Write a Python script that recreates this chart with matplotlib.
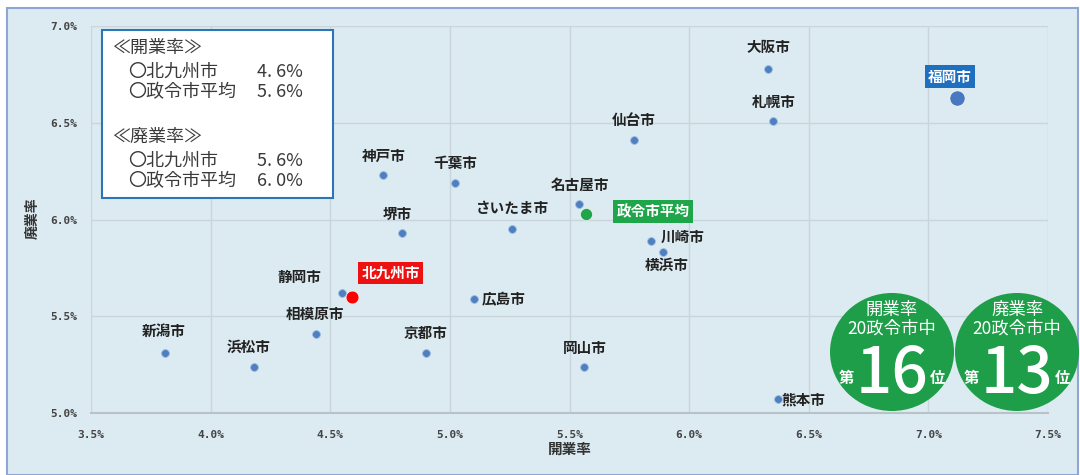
import matplotlib.pyplot as plt
from matplotlib.patches import Rectangle, Ellipse
from matplotlib.ticker import FuncFormatter

plt.rcParams['font.family'] = ['Noto Sans CJK JP', 'DejaVu Sans']

# data: 開業率 (x) / 廃業率 (y), percent
cities = ['大阪市', '福岡市', '札幌市', '仙台市', '神戸市', '千葉市', '名古屋市',
          '政令市平均', 'さいたま市', '堺市', '川崎市', '横浜市', '北九州市',
          '静岡市', '広島市', '相模原市', '新潟市', '浜松市', '京都市', '岡山市', '熊本市']
open_rate = [6.33, 7.12, 6.35, 5.77, 4.72, 5.02, 5.54,
             5.57, 5.26, 4.80, 5.84, 5.89, 4.59,
             4.55, 5.10, 4.44, 3.81, 4.18, 4.90, 5.56, 6.37]
close_rate = [6.78, 6.63, 6.51, 6.41, 6.23, 6.19, 6.08,
              6.03, 5.95, 5.93, 5.89, 5.83, 5.60,
              5.62, 5.59, 5.41, 5.31, 5.24, 5.31, 5.24, 5.07]

summary_open = ['4.6%', '5.6%']
summary_close = ['5.6%', '6.0%']
rank_open = '16'
rank_close = '13'

# label offsets in pixels (dx, dy, ha)
offsets = {
    '大阪市': (0, 22, 'center'), '福岡市': (-7, 21, 'center'), '札幌市': (1, 19, 'center'),
    '仙台市': (0, 20, 'center'), '神戸市': (1, 19, 'center'), '千葉市': (1, 20, 'center'),
    '名古屋市': (1, 19, 'center'), '政令市平均': (67, 2, 'center'), 'さいたま市': (0, 21, 'center'),
    '堺市': (-5, 19, 'center'), '川崎市': (10, 4, 'left'), '横浜市': (4, -12, 'center'),
    '北九州市': (39, 24, 'center'), '静岡市': (-43, 16, 'center'), '広島市': (8, 0, 'left'),
    '相模原市': (-1, 20, 'center'), '新潟市': (-1, 22, 'center'), '浜松市': (-5, 20, 'center'),
    '京都市': (0, 20, 'center'), '岡山市': (1, 19, 'center'), '熊本市': (4, 0, 'left'),
}
special = {
    '北九州市': dict(color='#ff0000', s=85, box='#ee1111'),
    '政令市平均': dict(color='#1fa64a', s=75, box='#1fa64a'),
    '福岡市': dict(color='#4a78c0', s=120, box='#1f6fc0'),
}
dot_color = '#4f7fc0'
bg = '#dcebf1'

fig = plt.figure(figsize=(10.8, 4.75), dpi=100)
W, H = 1080, 475

def fx(px):
    return px / W

def fy(py):
    return 1 - py / H

# outer panel
fig.add_artist(Rectangle((fx(7), 0), fx(1078) - fx(7), fy(8), transform=fig.transFigure,
                         fc=bg, ec='#8ea6d6', lw=1.5, zorder=0))

ax = fig.add_axes([fx(91), fy(413), fx(1048) - fx(91), fy(26) - fy(413)])
ax.set_facecolor('none')
ax.set_xlim(3.5, 7.5)
ax.set_ylim(5.0, 7.0)
ax.set_xticks([3.5, 4.0, 4.5, 5.0, 5.5, 6.0, 6.5, 7.0, 7.5])
ax.set_yticks([5.0, 5.5, 6.0, 6.5, 7.0])
fmt = FuncFormatter(lambda v, p: f'{v:.1f}%')
ax.xaxis.set_major_formatter(fmt)
ax.yaxis.set_major_formatter(fmt)
ax.tick_params(length=0, labelsize=8, colors='#444444')
ax.tick_params(axis='x', pad=12)
ax.tick_params(axis='y', pad=10)
for lab in ax.get_xticklabels() + ax.get_yticklabels():
    lab.set_fontweight('bold')
    lab.set_family(['DejaVu Sans Mono', 'DejaVu Sans'])
ax.grid(True, color='#c9d5da', lw=1)
for side in ['top', 'right', 'left']:
    ax.spines[side].set_visible(False)
ax.spines['bottom'].set_color('#b8c2c8')
ax.spines['bottom'].set_linewidth(1.5)
ax.set_axisbelow(True)
ax.set_xlabel('開業率', fontsize=10.5, fontweight='bold', color='#333333', labelpad=1)
fig.text(fx(33), fy(218), '廃業率', fontsize=10, fontweight='bold', color='#333333',
         rotation=90, ha='center', va='center')

for name, x, y in zip(cities, open_rate, close_rate):
    st = special.get(name)
    if st:
        ax.scatter(x, y, s=st['s'], color=st['color'], zorder=4, edgecolors='white', linewidths=0.4)
    else:
        ax.scatter(x, y, s=32, color=dot_color, zorder=3, edgecolors='#9cc0e0', linewidths=0.6)
    dx, dy, ha = offsets[name]
    if st:
        ax.annotate(name, (x, y), xytext=(dx, dy), textcoords='offset pixels', ha=ha, va='center',
                    fontsize=10.5, fontweight='bold', color='white', zorder=5,
                    bbox=dict(boxstyle='square,pad=0.22', fc=st['box'], ec='none'))
    else:
        ax.annotate(name, (x, y), xytext=(dx, dy), textcoords='offset pixels', ha=ha, va='center',
                    fontsize=10.5, fontweight='bold', color='#222222', zorder=5)

# summary box
fig.add_artist(Rectangle((fx(102), fy(198)), fx(333) - fx(102), fy(30) - fy(198),
                         transform=fig.transFigure, fc='white', ec='#2e75b6', lw=1.5, zorder=6))
tc = '#3a3a3a'
lines = [
    (112, 48, '≪開業率≫', None),
    (128, 72, '〇北九州市', summary_open[0]),
    (128, 92, '〇政令市平均', summary_open[1]),
    (112, 137, '≪廃業率≫', None),
    (128, 161, '〇北九州市', summary_close[0]),
    (128, 181, '〇政令市平均', summary_close[1]),
]
for px, py, txt, val in lines:
    fig.text(fx(px), fy(py), txt, fontsize=13, color=tc, va='center', ha='left', zorder=7)
    if val:
        fig.text(fx(257), fy(py), val.replace('.', '. '), fontsize=13, color=tc,
                 va='center', ha='left', zorder=7)

# rank circles
green = '#1e9e48'
for cx, head, rank in [(892, '開業率', rank_open), (1017, '廃業率', rank_close)]:
    fig.add_artist(Ellipse((fx(cx), fy(352)), 124 / W, 118 / H, transform=fig.transFigure,
                           fc=green, ec='none', zorder=6))
    fig.text(fx(cx), fy(310), head, fontsize=12.5, color='white', ha='center', va='center', zorder=7)
    fig.text(fx(cx), fy(329), '20政令市中', fontsize=12.5, color='white', ha='center', va='center', zorder=7)
    fig.text(fx(cx), fy(393), rank, fontsize=46, fontweight='medium', color='white',
             ha='center', va='baseline', zorder=7)
    fig.text(fx(cx - 46), fy(378), '第', fontsize=11, fontweight='bold', color='white',
             ha='center', va='center', zorder=7)
    fig.text(fx(cx + 45), fy(378), '位', fontsize=11, fontweight='bold', color='white',
             ha='center', va='center', zorder=7)

fig.savefig('out.png', dpi=100, facecolor='white')
